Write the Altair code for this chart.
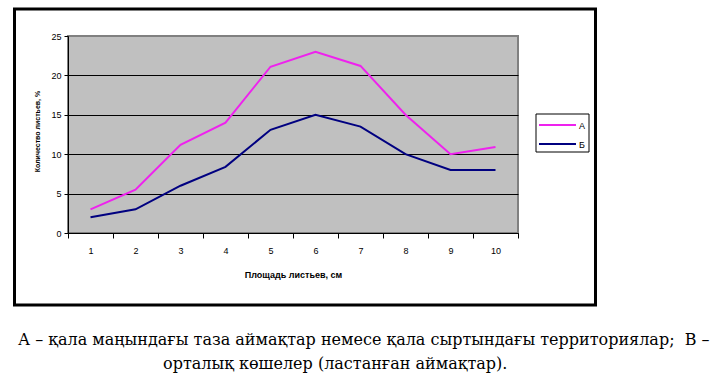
import altair as alt
import pandas as pd

# ---- data ----
leaf_area = [1, 2, 3, 4, 5, 6, 7, 8, 9, 10]
series_a = [3.0, 5.5, 11.2, 14.0, 21.1, 23.0, 21.2, 15.0, 10.0, 10.9]
series_b = [2.0, 3.0, 6.0, 8.4, 13.1, 15.0, 13.5, 10.0, 8.0, 8.0]
series_names = ["А", "Б"]
series_colors = ["#EE22EE", "#000080"]
y_ticks = [0, 5, 10, 15, 20, 25]
x_title = "Площадь листьев, см"
y_title = "Количество листьев, %"
caption_1 = "А – қала маңындағы таза аймақтар немесе қала сыртындағы территориялар;\u00a0 В –"
caption_2 = "орталық көшелер (ластанған аймақтар)."

SERIF = "DejaVu Serif"
SANS = "Liberation Sans, Arial, sans-serif"

rows = []
for name, vals in zip(series_names, [series_a, series_b]):
    for x, v in zip(leaf_area, vals):
        rows.append({"x": x, "value": v, "series": name})
df = pd.DataFrame(rows)
legend_df = pd.DataFrame({"series": series_names, "slot": [0, 1]})

x_edges = [v - 0.5 for v in leaf_area] + [leaf_area[-1] + 0.5]

W, H = 450, 197

color_scale = alt.Scale(domain=series_names, range=series_colors)

x_enc = alt.X(
    "x:Q",
    scale=alt.Scale(domain=[x_edges[0], x_edges[-1]], nice=False, zero=False),
    axis=alt.Axis(
        values=x_edges,
        grid=False,
        tickSize=5,
        tickColor="black",
        domainColor="black",
        labelExpr="datum.value < 10 ? format(datum.value + 0.5, 'd') : ''",
        labelOffset=22.5,
        labelFlush=False,
        labelOverlap=False,
        labelPadding=8,
        labelFont=SANS,
        labelFontSize=9,
        labelColor="black",
        title=x_title,
        titleFont=SANS,
        titleFontSize=9,
        titleFontWeight="bold",
        titleColor="black",
        titleY=41,
        titleBaseline="middle",
    ),
)

y_enc = alt.Y(
    "value:Q",
    scale=alt.Scale(domain=[0, 25], nice=False),
    axis=alt.Axis(
        values=y_ticks,
        grid=True,
        gridColor={"condition": {"test": "datum.value == 25", "value": "#808080"}, "value": "black"},
        gridWidth=1,
        gridOpacity=1,
        tickSize=4,
        tickColor="black",
        domainColor="black",
        labelPadding=3,
        labelFont=SANS,
        labelFontSize=9,
        labelColor="black",
        title=y_title,
        titleFont=SANS,
        titleFontSize=7,
        titleFontWeight="bold",
        titleColor="black",
        titleX=-31,
        titleY=95,
        titleAngle=270,
        titleBaseline="middle",
        titleAlign="center",
    ),
)

lines = alt.Chart(df).mark_line(strokeWidth=2).encode(
    x=x_enc,
    y=y_enc,
    color=alt.Color("series:N", scale=color_scale, legend=None),
)

# manual legend (Excel style box)
legend_box = alt.Chart(pd.DataFrame({"f": [0]})).mark_rect(
    fill="white", stroke="black", strokeWidth=1
).encode(x=alt.value(468), x2=alt.value(521), y=alt.value(78), y2=alt.value(116))

legend_y = alt.Y("slot:Q", scale=alt.Scale(domain=[0, 1], range=[89, 108]), axis=None)

legend_lines = alt.Chart(legend_df).mark_rule(strokeWidth=2).encode(
    x=alt.value(471),
    x2=alt.value(508),
    y=legend_y,
    color=alt.Color("series:N", scale=color_scale, legend=None),
)

legend_text = alt.Chart(legend_df).mark_text(
    font=SANS, fontSize=9, align="left", baseline="middle", color="black", dy=1
).encode(x=alt.value(511), y=legend_y, text="series:N")

frame = alt.Chart(pd.DataFrame({"f": [0]})).mark_rect(
    fill=None, stroke="black", strokeWidth=3
).encode(
    x=alt.value(-53.5), x2=alt.value(527.5), y=alt.value(-27), y2=alt.value(269)
)

cap1 = alt.Chart(pd.DataFrame({"t": [caption_1]})).mark_text(
    font=SERIF, fontSize=16, align="left", baseline="alphabetic", color="black"
).encode(text="t:N", x=alt.value(-50), y=alt.value(309))

cap2 = alt.Chart(pd.DataFrame({"t": [caption_2]})).mark_text(
    font=SERIF, fontSize=16, align="left", baseline="alphabetic", color="black"
).encode(text="t:N", x=alt.value(95), y=alt.value(333))

chart = alt.layer(
    lines, legend_box, legend_lines, legend_text, frame, cap1, cap2
).resolve_scale(y="independent").properties(
    width=W,
    height=H,
    autosize=alt.AutoSizeParams(type="none"),
    padding={"left": 68, "top": 36, "right": 712 - 68 - W, "bottom": 376 - 36 - H},
    background="white",
).configure_view(
    fill="#C0C0C0", stroke="#808080", strokeWidth=2
)

chart.save("out.html", embed_options={"renderer": "svg", "actions": False})
